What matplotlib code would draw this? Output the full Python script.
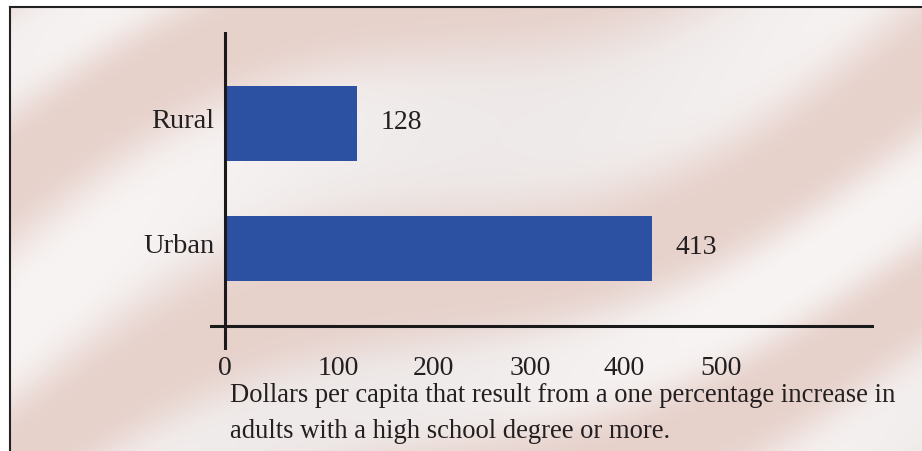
import numpy as np
import matplotlib
matplotlib.use("Agg")
import matplotlib.pyplot as plt
import matplotlib.transforms as mtransforms
from matplotlib.lines import Line2D

# data
categories = ["Urban", "Rural"]
values = [413, 128]
tick_labels = ["0", "100", "200", "300", "400", "500"]
# tick labels in the original sit slightly off the true scale
tick_pos = [0, 109, 201, 295, 386, 479]
caption = ["Dollars per capita that result from a one percentage increase in",
           "adults with a high school degree or more."]

W, H = 922, 451
fig = plt.figure(figsize=(W / 100, H / 100), dpi=100)
fig.patch.set_facecolor("white")

def fx(px):
    return px / W

def fy(py):
    return 1 - py / H

# faded waving-flag backdrop
bg = fig.add_axes([fx(10), 0, 1 - fx(10), fy(7)])
bg.set_axis_off()
yy, xx = np.mgrid[0:444, 0:912].astype(float)
u = yy + 0.42 * xx + 45 * np.sin(xx / 140.0) + 20 * np.sin(yy / 90.0 + xx / 260.0)
s = 0.5 + 0.5 * np.sin(2 * np.pi * u / 250.0)
s = s ** 2 * (3 - 2 * s)
shade = 0.5 + 0.5 * np.sin(xx / 120.0 + yy / 200.0)
pink = np.array([231, 209, 203]) / 255
white = np.array([247, 244, 243]) / 255
grey = np.array([225, 219, 218]) / 255
light = white * (0.6 + 0.4 * shade[..., None]) + grey * (0.4 - 0.4 * shade[..., None])
img = pink * (1 - s[..., None]) + light * s[..., None]
bg.imshow(img, aspect="auto", extent=[0, 1, 0, 1], interpolation="bilinear")
bg.set_xlim(0, 1)
bg.set_ylim(0, 1)

# frame lines (top and left)
fig.add_artist(Line2D([fx(9.5), 1], [fy(6.5), fy(6.5)], color="#222222", lw=1.5))
fig.add_artist(Line2D([fx(9.5), fx(9.5)], [0, fy(6.5)], color="#222222", lw=1.5))

serif = ["Liberation Serif", "DejaVu Serif"]
txt = "#231f20"

# main axes: left 210px, right 874px, top 32px, bottom 350px
ax = fig.add_axes([fx(210), fy(350), fx(874 - 210), (350 - 32) / H])
ax.patch.set_alpha(0)
for sp in ax.spines.values():
    sp.set_visible(False)

ypos = [0, 1]
ax.barh(ypos, values, height=[0.52, 0.6], color="#2c50a2", zorder=3)
ax.set_xlim(-14.5, 627)
ax.set_ylim(-0.812, 1.732)

ax.axvline(0, color="#1a1a1a", lw=2.2, zorder=4)
ax.axhline(-0.62, color="#1a1a1a", lw=2.2, zorder=4)

for y, v in zip(ypos, values):
    ax.annotate(str(v), (v, y), xytext=(23, 1), textcoords="offset pixels",
                va="center", ha="left", fontsize=20, family=serif, color=txt)

ax.set_yticks(ypos, categories, fontsize=20.5, family=serif, color=txt)
ax.set_xticks(tick_pos, tick_labels, fontsize=20, family=serif, color=txt)
ax.tick_params(axis="both", length=0)
ax.tick_params(axis="y", pad=-3)
ax.tick_params(axis="x", pad=4)
up = mtransforms.ScaledTranslation(0, 5 / 100, fig.dpi_scale_trans)
for lab in ax.get_yticklabels():
    lab.set_transform(lab.get_transform() + up)

fig.text(fx(230), fy(402), caption[0], fontsize=19.2, family=serif, color=txt, va="baseline")
fig.text(fx(230), fy(438), caption[1], fontsize=19.2, family=serif, color=txt, va="baseline")

fig.savefig("out.png", dpi=100)
